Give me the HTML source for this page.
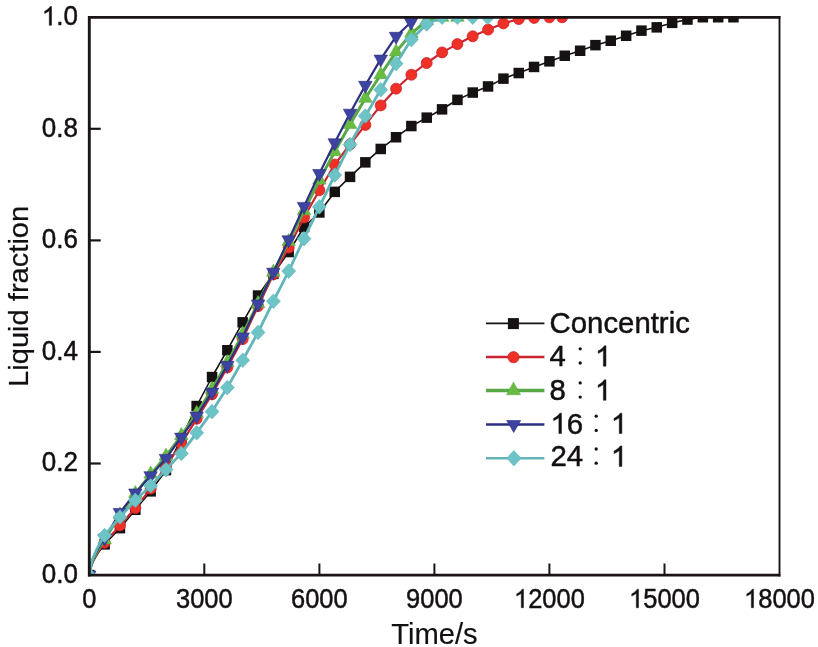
<!DOCTYPE html>
<html><head><meta charset="utf-8"><style>
html,body{margin:0;padding:0;background:#fff;width:818px;height:647px;overflow:hidden}
</style></head><body>
<svg width="818" height="647" viewBox="0 0 818 647" style="display:block;will-change:transform"><rect width="818" height="647" fill="#fff"/><defs><clipPath id="pc"><rect x="89.3" y="17.3" width="690.2" height="557.7"/></clipPath></defs><g clip-path="url(#pc)"><polyline points="89.3,575.0 91.2,566.2 93.1,561.6 95.1,558.0 97.0,554.8 98.9,551.9 100.8,549.2 102.7,546.7 104.6,544.3 120.0,528.2 135.3,509.7 150.7,491.3 166.0,470.2 181.3,438.4 196.7,406.0 212.0,377.0 227.3,350.2 242.7,322.4 258.0,295.6 273.4,273.8 288.7,252.1 304.0,227.0 319.4,212.5 334.7,191.9 350.0,176.8 365.4,162.3 380.7,148.9 396.1,137.2 411.4,126.1 426.7,117.7 442.1,109.3 457.4,99.8 472.7,92.6 488.1,86.5 503.4,78.6 518.8,73.1 534.1,66.9 549.4,61.4 564.8,55.8 580.1,50.8 595.4,45.2 610.8,40.7 626.1,35.7 641.5,30.7 656.8,27.3 672.1,22.9 687.5,19.5 702.8,17.3 718.1,17.3 733.5,17.3" fill="none" stroke="#161212" stroke-width="1.6" stroke-linejoin="round"/><rect x="84.0" y="569.8" width="10.5" height="10.5" fill="#161212"/><rect x="99.4" y="539.1" width="10.5" height="10.5" fill="#161212"/><rect x="114.7" y="522.9" width="10.5" height="10.5" fill="#161212"/><rect x="130.1" y="504.5" width="10.5" height="10.5" fill="#161212"/><rect x="145.4" y="486.1" width="10.5" height="10.5" fill="#161212"/><rect x="160.7" y="464.9" width="10.5" height="10.5" fill="#161212"/><rect x="176.1" y="433.1" width="10.5" height="10.5" fill="#161212"/><rect x="191.4" y="400.8" width="10.5" height="10.5" fill="#161212"/><rect x="206.8" y="371.8" width="10.5" height="10.5" fill="#161212"/><rect x="222.1" y="345.0" width="10.5" height="10.5" fill="#161212"/><rect x="237.4" y="317.1" width="10.5" height="10.5" fill="#161212"/><rect x="252.8" y="290.3" width="10.5" height="10.5" fill="#161212"/><rect x="268.1" y="268.6" width="10.5" height="10.5" fill="#161212"/><rect x="283.4" y="246.8" width="10.5" height="10.5" fill="#161212"/><rect x="298.8" y="221.7" width="10.5" height="10.5" fill="#161212"/><rect x="314.1" y="207.2" width="10.5" height="10.5" fill="#161212"/><rect x="329.5" y="186.6" width="10.5" height="10.5" fill="#161212"/><rect x="344.8" y="171.6" width="10.5" height="10.5" fill="#161212"/><rect x="360.1" y="157.1" width="10.5" height="10.5" fill="#161212"/><rect x="375.5" y="143.7" width="10.5" height="10.5" fill="#161212"/><rect x="390.8" y="132.0" width="10.5" height="10.5" fill="#161212"/><rect x="406.1" y="120.8" width="10.5" height="10.5" fill="#161212"/><rect x="421.5" y="112.4" width="10.5" height="10.5" fill="#161212"/><rect x="436.8" y="104.1" width="10.5" height="10.5" fill="#161212"/><rect x="452.2" y="94.6" width="10.5" height="10.5" fill="#161212"/><rect x="467.5" y="87.3" width="10.5" height="10.5" fill="#161212"/><rect x="482.8" y="81.2" width="10.5" height="10.5" fill="#161212"/><rect x="498.2" y="73.4" width="10.5" height="10.5" fill="#161212"/><rect x="513.5" y="67.8" width="10.5" height="10.5" fill="#161212"/><rect x="528.8" y="61.7" width="10.5" height="10.5" fill="#161212"/><rect x="544.2" y="56.1" width="10.5" height="10.5" fill="#161212"/><rect x="559.5" y="50.5" width="10.5" height="10.5" fill="#161212"/><rect x="574.9" y="45.5" width="10.5" height="10.5" fill="#161212"/><rect x="590.2" y="39.9" width="10.5" height="10.5" fill="#161212"/><rect x="605.5" y="35.5" width="10.5" height="10.5" fill="#161212"/><rect x="620.9" y="30.5" width="10.5" height="10.5" fill="#161212"/><rect x="636.2" y="25.4" width="10.5" height="10.5" fill="#161212"/><rect x="651.5" y="22.1" width="10.5" height="10.5" fill="#161212"/><rect x="666.9" y="17.6" width="10.5" height="10.5" fill="#161212"/><rect x="682.2" y="14.3" width="10.5" height="10.5" fill="#161212"/><rect x="697.6" y="12.0" width="10.5" height="10.5" fill="#161212"/><rect x="712.9" y="12.0" width="10.5" height="10.5" fill="#161212"/><rect x="728.2" y="12.0" width="10.5" height="10.5" fill="#161212"/><polyline points="89.3,575.0 91.2,565.7 93.1,560.9 95.1,557.0 97.0,553.7 98.9,550.6 100.8,547.8 102.7,545.1 104.6,542.7 120.0,525.4 135.3,508.1 150.7,488.6 166.0,466.2 181.3,443.4 196.7,418.8 212.0,394.3 227.3,367.5 242.7,339.1 258.0,306.2 273.4,274.4 288.7,247.6 304.0,217.5 319.4,190.2 334.7,164.5 350.0,144.5 365.4,124.9 380.7,105.4 396.1,88.7 411.4,74.7 426.7,63.0 442.1,52.4 457.4,44.1 472.7,36.3 488.1,29.6 503.4,23.4 518.8,19.0 534.1,17.9 549.4,17.3 562.1,17.3" fill="none" stroke="#cc2430" stroke-width="2.2" stroke-linejoin="round"/><circle cx="89.3" cy="575.0" r="5.5" fill="#ee3026" stroke="#cc2430" stroke-width="0.8"/><circle cx="104.6" cy="542.7" r="5.5" fill="#ee3026" stroke="#cc2430" stroke-width="0.8"/><circle cx="120.0" cy="525.4" r="5.5" fill="#ee3026" stroke="#cc2430" stroke-width="0.8"/><circle cx="135.3" cy="508.1" r="5.5" fill="#ee3026" stroke="#cc2430" stroke-width="0.8"/><circle cx="150.7" cy="488.6" r="5.5" fill="#ee3026" stroke="#cc2430" stroke-width="0.8"/><circle cx="166.0" cy="466.2" r="5.5" fill="#ee3026" stroke="#cc2430" stroke-width="0.8"/><circle cx="181.3" cy="443.4" r="5.5" fill="#ee3026" stroke="#cc2430" stroke-width="0.8"/><circle cx="196.7" cy="418.8" r="5.5" fill="#ee3026" stroke="#cc2430" stroke-width="0.8"/><circle cx="212.0" cy="394.3" r="5.5" fill="#ee3026" stroke="#cc2430" stroke-width="0.8"/><circle cx="227.3" cy="367.5" r="5.5" fill="#ee3026" stroke="#cc2430" stroke-width="0.8"/><circle cx="242.7" cy="339.1" r="5.5" fill="#ee3026" stroke="#cc2430" stroke-width="0.8"/><circle cx="258.0" cy="306.2" r="5.5" fill="#ee3026" stroke="#cc2430" stroke-width="0.8"/><circle cx="273.4" cy="274.4" r="5.5" fill="#ee3026" stroke="#cc2430" stroke-width="0.8"/><circle cx="288.7" cy="247.6" r="5.5" fill="#ee3026" stroke="#cc2430" stroke-width="0.8"/><circle cx="304.0" cy="217.5" r="5.5" fill="#ee3026" stroke="#cc2430" stroke-width="0.8"/><circle cx="319.4" cy="190.2" r="5.5" fill="#ee3026" stroke="#cc2430" stroke-width="0.8"/><circle cx="334.7" cy="164.5" r="5.5" fill="#ee3026" stroke="#cc2430" stroke-width="0.8"/><circle cx="350.0" cy="144.5" r="5.5" fill="#ee3026" stroke="#cc2430" stroke-width="0.8"/><circle cx="365.4" cy="124.9" r="5.5" fill="#ee3026" stroke="#cc2430" stroke-width="0.8"/><circle cx="380.7" cy="105.4" r="5.5" fill="#ee3026" stroke="#cc2430" stroke-width="0.8"/><circle cx="396.1" cy="88.7" r="5.5" fill="#ee3026" stroke="#cc2430" stroke-width="0.8"/><circle cx="411.4" cy="74.7" r="5.5" fill="#ee3026" stroke="#cc2430" stroke-width="0.8"/><circle cx="426.7" cy="63.0" r="5.5" fill="#ee3026" stroke="#cc2430" stroke-width="0.8"/><circle cx="442.1" cy="52.4" r="5.5" fill="#ee3026" stroke="#cc2430" stroke-width="0.8"/><circle cx="457.4" cy="44.1" r="5.5" fill="#ee3026" stroke="#cc2430" stroke-width="0.8"/><circle cx="472.7" cy="36.3" r="5.5" fill="#ee3026" stroke="#cc2430" stroke-width="0.8"/><circle cx="488.1" cy="29.6" r="5.5" fill="#ee3026" stroke="#cc2430" stroke-width="0.8"/><circle cx="503.4" cy="23.4" r="5.5" fill="#ee3026" stroke="#cc2430" stroke-width="0.8"/><circle cx="518.8" cy="19.0" r="5.5" fill="#ee3026" stroke="#cc2430" stroke-width="0.8"/><circle cx="534.1" cy="17.9" r="5.5" fill="#ee3026" stroke="#cc2430" stroke-width="0.8"/><circle cx="549.4" cy="17.3" r="5.5" fill="#ee3026" stroke="#cc2430" stroke-width="0.8"/><circle cx="562.1" cy="17.3" r="5.5" fill="#ee3026" stroke="#cc2430" stroke-width="0.8"/><polyline points="89.3,575.0 91.2,564.9 93.1,559.7 95.1,555.5 97.0,551.8 98.9,548.5 100.8,545.4 102.7,542.6 104.6,539.9 120.0,514.8 135.3,493.6 150.7,474.1 166.0,456.2 181.3,435.6 196.7,413.3 212.0,389.3 227.3,362.5 242.7,334.1 258.0,303.4 273.4,272.2 288.7,241.5 304.0,210.8 319.4,180.1 334.7,151.7 350.0,124.4 365.4,98.2 380.7,74.7 396.1,51.9 411.4,33.5 426.7,20.6 442.1,17.3 457.4,17.3" fill="none" stroke="#58a846" stroke-width="3.0" stroke-linejoin="round"/><path d="M89.3,567.0L96.0,579.0L82.5,579.0Z" fill="#68bd40" stroke="#58a846" stroke-width="0.6"/><path d="M104.6,531.9L111.4,543.9L97.9,543.9Z" fill="#68bd40" stroke="#58a846" stroke-width="0.6"/><path d="M120.0,506.8L126.7,518.8L113.2,518.8Z" fill="#68bd40" stroke="#58a846" stroke-width="0.6"/><path d="M135.3,485.6L142.1,497.6L128.6,497.6Z" fill="#68bd40" stroke="#58a846" stroke-width="0.6"/><path d="M150.7,466.1L157.4,478.1L143.9,478.1Z" fill="#68bd40" stroke="#58a846" stroke-width="0.6"/><path d="M166.0,448.2L172.7,460.2L159.2,460.2Z" fill="#68bd40" stroke="#58a846" stroke-width="0.6"/><path d="M181.3,427.6L188.1,439.6L174.6,439.6Z" fill="#68bd40" stroke="#58a846" stroke-width="0.6"/><path d="M196.7,405.3L203.4,417.3L189.9,417.3Z" fill="#68bd40" stroke="#58a846" stroke-width="0.6"/><path d="M212.0,381.3L218.8,393.3L205.3,393.3Z" fill="#68bd40" stroke="#58a846" stroke-width="0.6"/><path d="M227.3,354.5L234.1,366.5L220.6,366.5Z" fill="#68bd40" stroke="#58a846" stroke-width="0.6"/><path d="M242.7,326.1L249.4,338.1L235.9,338.1Z" fill="#68bd40" stroke="#58a846" stroke-width="0.6"/><path d="M258.0,295.4L264.8,307.4L251.3,307.4Z" fill="#68bd40" stroke="#58a846" stroke-width="0.6"/><path d="M273.4,264.2L280.1,276.2L266.6,276.2Z" fill="#68bd40" stroke="#58a846" stroke-width="0.6"/><path d="M288.7,233.5L295.4,245.5L281.9,245.5Z" fill="#68bd40" stroke="#58a846" stroke-width="0.6"/><path d="M304.0,202.8L310.8,214.8L297.3,214.8Z" fill="#68bd40" stroke="#58a846" stroke-width="0.6"/><path d="M319.4,172.1L326.1,184.1L312.6,184.1Z" fill="#68bd40" stroke="#58a846" stroke-width="0.6"/><path d="M334.7,143.7L341.5,155.7L328.0,155.7Z" fill="#68bd40" stroke="#58a846" stroke-width="0.6"/><path d="M350.0,116.4L356.8,128.4L343.3,128.4Z" fill="#68bd40" stroke="#58a846" stroke-width="0.6"/><path d="M365.4,90.2L372.1,102.2L358.6,102.2Z" fill="#68bd40" stroke="#58a846" stroke-width="0.6"/><path d="M380.7,66.7L387.5,78.7L374.0,78.7Z" fill="#68bd40" stroke="#58a846" stroke-width="0.6"/><path d="M396.1,43.9L402.8,55.9L389.3,55.9Z" fill="#68bd40" stroke="#58a846" stroke-width="0.6"/><path d="M411.4,25.5L418.1,37.5L404.6,37.5Z" fill="#68bd40" stroke="#58a846" stroke-width="0.6"/><path d="M426.7,12.6L433.5,24.6L420.0,24.6Z" fill="#68bd40" stroke="#58a846" stroke-width="0.6"/><path d="M442.1,9.3L448.8,21.3L435.3,21.3Z" fill="#68bd40" stroke="#58a846" stroke-width="0.6"/><path d="M457.4,9.3L464.2,21.3L450.7,21.3Z" fill="#68bd40" stroke="#58a846" stroke-width="0.6"/><polyline points="89.3,575.0 91.2,564.4 93.1,559.0 95.1,554.6 97.0,550.7 98.9,547.2 100.8,544.0 102.7,541.0 104.6,538.2 120.0,512.5 135.3,493.0 150.7,475.7 166.0,458.4 181.3,437.2 196.7,416.1 212.0,392.1 227.3,365.3 242.7,336.9 258.0,304.0 273.4,272.2 288.7,239.8 304.0,206.4 319.4,173.5 334.7,142.8 350.0,113.2 365.4,85.3 380.7,59.1 396.1,36.3 411.0,22.3" fill="none" stroke="#2e2f80" stroke-width="2.2" stroke-linejoin="round"/><path d="M82.5,571.0L96.0,571.0L89.3,583.0Z" fill="#3d43a0" stroke="#2e2f80" stroke-width="0.6"/><path d="M97.9,534.2L111.4,534.2L104.6,546.2Z" fill="#3d43a0" stroke="#2e2f80" stroke-width="0.6"/><path d="M113.2,508.5L126.7,508.5L120.0,520.5Z" fill="#3d43a0" stroke="#2e2f80" stroke-width="0.6"/><path d="M128.6,489.0L142.1,489.0L135.3,501.0Z" fill="#3d43a0" stroke="#2e2f80" stroke-width="0.6"/><path d="M143.9,471.7L157.4,471.7L150.7,483.7Z" fill="#3d43a0" stroke="#2e2f80" stroke-width="0.6"/><path d="M159.2,454.4L172.7,454.4L166.0,466.4Z" fill="#3d43a0" stroke="#2e2f80" stroke-width="0.6"/><path d="M174.6,433.2L188.1,433.2L181.3,445.2Z" fill="#3d43a0" stroke="#2e2f80" stroke-width="0.6"/><path d="M189.9,412.1L203.4,412.1L196.7,424.1Z" fill="#3d43a0" stroke="#2e2f80" stroke-width="0.6"/><path d="M205.3,388.1L218.8,388.1L212.0,400.1Z" fill="#3d43a0" stroke="#2e2f80" stroke-width="0.6"/><path d="M220.6,361.3L234.1,361.3L227.3,373.3Z" fill="#3d43a0" stroke="#2e2f80" stroke-width="0.6"/><path d="M235.9,332.9L249.4,332.9L242.7,344.9Z" fill="#3d43a0" stroke="#2e2f80" stroke-width="0.6"/><path d="M251.3,300.0L264.8,300.0L258.0,312.0Z" fill="#3d43a0" stroke="#2e2f80" stroke-width="0.6"/><path d="M266.6,268.2L280.1,268.2L273.4,280.2Z" fill="#3d43a0" stroke="#2e2f80" stroke-width="0.6"/><path d="M281.9,235.8L295.4,235.8L288.7,247.8Z" fill="#3d43a0" stroke="#2e2f80" stroke-width="0.6"/><path d="M297.3,202.4L310.8,202.4L304.0,214.4Z" fill="#3d43a0" stroke="#2e2f80" stroke-width="0.6"/><path d="M312.6,169.5L326.1,169.5L319.4,181.5Z" fill="#3d43a0" stroke="#2e2f80" stroke-width="0.6"/><path d="M328.0,138.8L341.5,138.8L334.7,150.8Z" fill="#3d43a0" stroke="#2e2f80" stroke-width="0.6"/><path d="M343.3,109.2L356.8,109.2L350.0,121.2Z" fill="#3d43a0" stroke="#2e2f80" stroke-width="0.6"/><path d="M358.6,81.3L372.1,81.3L365.4,93.3Z" fill="#3d43a0" stroke="#2e2f80" stroke-width="0.6"/><path d="M374.0,55.1L387.5,55.1L380.7,67.1Z" fill="#3d43a0" stroke="#2e2f80" stroke-width="0.6"/><path d="M389.3,32.3L402.8,32.3L396.1,44.3Z" fill="#3d43a0" stroke="#2e2f80" stroke-width="0.6"/><path d="M404.3,18.3L417.8,18.3L411.0,30.3Z" fill="#3d43a0" stroke="#2e2f80" stroke-width="0.6"/><polyline points="89.3,575.0 91.2,563.7 93.1,557.8 95.1,553.1 97.0,548.9 98.9,545.2 100.8,541.8 102.7,538.6 104.6,535.5 120.0,517.0 135.3,500.3 150.7,485.8 166.0,469.6 181.3,453.4 196.7,432.8 212.0,411.6 227.3,387.6 242.7,360.3 258.0,332.4 273.4,301.2 288.7,271.1 304.0,238.7 319.4,206.9 334.7,175.1 350.0,144.5 365.4,116.0 380.7,89.8 396.1,63.6 411.4,39.6 426.7,24.0 442.1,17.3 457.4,17.3 472.7,17.3 487.7,17.3" fill="none" stroke="#62b6b9" stroke-width="2.8" stroke-linejoin="round"/><path d="M89.3,567.7L96.3,575.0L89.3,582.3L82.3,575.0Z" fill="#6cc4c6" stroke="#62b6b9" stroke-width="0.6"/><path d="M104.6,528.2L111.6,535.5L104.6,542.8L97.6,535.5Z" fill="#6cc4c6" stroke="#62b6b9" stroke-width="0.6"/><path d="M120.0,509.7L127.0,517.0L120.0,524.3L113.0,517.0Z" fill="#6cc4c6" stroke="#62b6b9" stroke-width="0.6"/><path d="M135.3,493.0L142.3,500.3L135.3,507.6L128.3,500.3Z" fill="#6cc4c6" stroke="#62b6b9" stroke-width="0.6"/><path d="M150.7,478.5L157.7,485.8L150.7,493.1L143.7,485.8Z" fill="#6cc4c6" stroke="#62b6b9" stroke-width="0.6"/><path d="M166.0,462.3L173.0,469.6L166.0,476.9L159.0,469.6Z" fill="#6cc4c6" stroke="#62b6b9" stroke-width="0.6"/><path d="M181.3,446.1L188.3,453.4L181.3,460.7L174.3,453.4Z" fill="#6cc4c6" stroke="#62b6b9" stroke-width="0.6"/><path d="M196.7,425.5L203.7,432.8L196.7,440.1L189.7,432.8Z" fill="#6cc4c6" stroke="#62b6b9" stroke-width="0.6"/><path d="M212.0,404.3L219.0,411.6L212.0,418.9L205.0,411.6Z" fill="#6cc4c6" stroke="#62b6b9" stroke-width="0.6"/><path d="M227.3,380.3L234.3,387.6L227.3,394.9L220.3,387.6Z" fill="#6cc4c6" stroke="#62b6b9" stroke-width="0.6"/><path d="M242.7,353.0L249.7,360.3L242.7,367.6L235.7,360.3Z" fill="#6cc4c6" stroke="#62b6b9" stroke-width="0.6"/><path d="M258.0,325.1L265.0,332.4L258.0,339.7L251.0,332.4Z" fill="#6cc4c6" stroke="#62b6b9" stroke-width="0.6"/><path d="M273.4,293.9L280.4,301.2L273.4,308.5L266.4,301.2Z" fill="#6cc4c6" stroke="#62b6b9" stroke-width="0.6"/><path d="M288.7,263.8L295.7,271.1L288.7,278.4L281.7,271.1Z" fill="#6cc4c6" stroke="#62b6b9" stroke-width="0.6"/><path d="M304.0,231.4L311.0,238.7L304.0,246.0L297.0,238.7Z" fill="#6cc4c6" stroke="#62b6b9" stroke-width="0.6"/><path d="M319.4,199.6L326.4,206.9L319.4,214.2L312.4,206.9Z" fill="#6cc4c6" stroke="#62b6b9" stroke-width="0.6"/><path d="M334.7,167.8L341.7,175.1L334.7,182.4L327.7,175.1Z" fill="#6cc4c6" stroke="#62b6b9" stroke-width="0.6"/><path d="M350.0,137.2L357.0,144.5L350.0,151.8L343.0,144.5Z" fill="#6cc4c6" stroke="#62b6b9" stroke-width="0.6"/><path d="M365.4,108.7L372.4,116.0L365.4,123.3L358.4,116.0Z" fill="#6cc4c6" stroke="#62b6b9" stroke-width="0.6"/><path d="M380.7,82.5L387.7,89.8L380.7,97.1L373.7,89.8Z" fill="#6cc4c6" stroke="#62b6b9" stroke-width="0.6"/><path d="M396.1,56.3L403.1,63.6L396.1,70.9L389.1,63.6Z" fill="#6cc4c6" stroke="#62b6b9" stroke-width="0.6"/><path d="M411.4,32.3L418.4,39.6L411.4,46.9L404.4,39.6Z" fill="#6cc4c6" stroke="#62b6b9" stroke-width="0.6"/><path d="M426.7,16.7L433.7,24.0L426.7,31.3L419.7,24.0Z" fill="#6cc4c6" stroke="#62b6b9" stroke-width="0.6"/><path d="M442.1,10.0L449.1,17.3L442.1,24.6L435.1,17.3Z" fill="#6cc4c6" stroke="#62b6b9" stroke-width="0.6"/><path d="M457.4,10.0L464.4,17.3L457.4,24.6L450.4,17.3Z" fill="#6cc4c6" stroke="#62b6b9" stroke-width="0.6"/><path d="M472.7,10.0L479.7,17.3L472.7,24.6L465.7,17.3Z" fill="#6cc4c6" stroke="#62b6b9" stroke-width="0.6"/><path d="M487.7,10.0L494.7,17.3L487.7,24.6L480.7,17.3Z" fill="#6cc4c6" stroke="#62b6b9" stroke-width="0.6"/></g><g stroke="#1a1414" fill="none"><line x1="89.3" y1="16" x2="89.3" y2="576.5" stroke-width="2.9"/><line x1="88" y1="575.2" x2="780.4" y2="575.2" stroke-width="2.7"/><line x1="88" y1="17.3" x2="780.4" y2="17.3" stroke-width="2.7"/><line x1="779.5" y1="16" x2="779.5" y2="576.4" stroke-width="1.9"/><line x1="204.3" y1="575" x2="204.3" y2="563.5" stroke-width="2"/><line x1="319.4" y1="575" x2="319.4" y2="563.5" stroke-width="2"/><line x1="434.4" y1="575" x2="434.4" y2="563.5" stroke-width="2"/><line x1="549.4" y1="575" x2="549.4" y2="563.5" stroke-width="2"/><line x1="664.5" y1="575" x2="664.5" y2="563.5" stroke-width="2"/><line x1="89.3" y1="463.5" x2="100.7" y2="463.5" stroke-width="2.2"/><line x1="89.3" y1="351.9" x2="100.7" y2="351.9" stroke-width="2.2"/><line x1="89.3" y1="240.4" x2="100.7" y2="240.4" stroke-width="2.2"/><line x1="89.3" y1="128.8" x2="100.7" y2="128.8" stroke-width="2.2"/></g><g transform="translate(89.30,607.70) scale(0.98,1.05)" font-family='"Liberation Sans", sans-serif' font-size="26" fill="#141010" stroke="#141010" stroke-width="0.45" stroke-linejoin="round"><text x="-7.23" y="0">0</text></g><g transform="translate(204.33,607.70) scale(0.98,1.05)" font-family='"Liberation Sans", sans-serif' font-size="26" fill="#141010" stroke="#141010" stroke-width="0.45" stroke-linejoin="round"><text x="-28.92" y="0">3000</text></g><g transform="translate(319.36,607.70) scale(0.98,1.05)" font-family='"Liberation Sans", sans-serif' font-size="26" fill="#141010" stroke="#141010" stroke-width="0.45" stroke-linejoin="round"><text x="-28.92" y="0">6000</text></g><g transform="translate(434.40,607.70) scale(0.98,1.05)" font-family='"Liberation Sans", sans-serif' font-size="26" fill="#141010" stroke="#141010" stroke-width="0.45" stroke-linejoin="round"><text x="-28.92" y="0">9000</text></g><g transform="translate(549.43,607.70) scale(0.98,1.05)" font-family='"Liberation Sans", sans-serif' font-size="26" fill="#141010" stroke="#141010" stroke-width="0.45" stroke-linejoin="round"><path d="M-26.45,0.00L-28.74,0.00L-28.74,-13.74L-29.65,-12.96L-30.92,-12.25L-32.25,-11.58L-33.37,-11.09L-33.37,-13.18L-31.73,-13.99L-29.96,-15.29L-28.74,-16.49L-27.91,-17.57L-26.45,-17.57Z"/><text x="-21.69" y="0">2000</text></g><g transform="translate(664.46,607.70) scale(0.98,1.05)" font-family='"Liberation Sans", sans-serif' font-size="26" fill="#141010" stroke="#141010" stroke-width="0.45" stroke-linejoin="round"><path d="M-26.45,0.00L-28.74,0.00L-28.74,-13.74L-29.65,-12.96L-30.92,-12.25L-32.25,-11.58L-33.37,-11.09L-33.37,-13.18L-31.73,-13.99L-29.96,-15.29L-28.74,-16.49L-27.91,-17.57L-26.45,-17.57Z"/><text x="-21.69" y="0">5000</text></g><g transform="translate(779.49,607.70) scale(0.98,1.05)" font-family='"Liberation Sans", sans-serif' font-size="26" fill="#141010" stroke="#141010" stroke-width="0.45" stroke-linejoin="round"><path d="M-26.45,0.00L-28.74,0.00L-28.74,-13.74L-29.65,-12.96L-30.92,-12.25L-32.25,-11.58L-33.37,-11.09L-33.37,-13.18L-31.73,-13.99L-29.96,-15.29L-28.74,-16.49L-27.91,-17.57L-26.45,-17.57Z"/><text x="-21.69" y="0">8000</text></g><g transform="translate(78.00,583.00) scale(1.0,1.07)" font-family='"Liberation Sans", sans-serif' font-size="26" fill="#141010" stroke="#141010" stroke-width="0.45" stroke-linejoin="round"><text x="-36.14" y="0">0.0</text></g><g transform="translate(78.00,471.46) scale(1.0,1.07)" font-family='"Liberation Sans", sans-serif' font-size="26" fill="#141010" stroke="#141010" stroke-width="0.45" stroke-linejoin="round"><text x="-36.14" y="0">0.2</text></g><g transform="translate(78.00,359.92) scale(1.0,1.07)" font-family='"Liberation Sans", sans-serif' font-size="26" fill="#141010" stroke="#141010" stroke-width="0.45" stroke-linejoin="round"><text x="-36.14" y="0">0.4</text></g><g transform="translate(78.00,248.38) scale(1.0,1.07)" font-family='"Liberation Sans", sans-serif' font-size="26" fill="#141010" stroke="#141010" stroke-width="0.45" stroke-linejoin="round"><text x="-36.14" y="0">0.6</text></g><g transform="translate(78.00,136.84) scale(1.0,1.07)" font-family='"Liberation Sans", sans-serif' font-size="26" fill="#141010" stroke="#141010" stroke-width="0.45" stroke-linejoin="round"><text x="-36.14" y="0">0.8</text></g><g transform="translate(78.00,25.30) scale(1.0,1.07)" font-family='"Liberation Sans", sans-serif' font-size="26" fill="#141010" stroke="#141010" stroke-width="0.45" stroke-linejoin="round"><path d="M-26.45,0.00L-28.73,0.00L-28.73,-13.74L-29.64,-12.96L-30.92,-12.25L-32.24,-11.58L-33.36,-11.09L-33.36,-13.18L-31.72,-13.99L-29.96,-15.29L-28.73,-16.49L-27.90,-17.57L-26.45,-17.57Z"/><text x="-21.68" y="0">.0</text></g><g transform="translate(435.00,644.30) scale(1.044,1.04)" font-family='"Liberation Sans", sans-serif' font-size="28" fill="#141010" stroke="#141010" stroke-width="0.15" stroke-linejoin="round"><text x="-42.00" y="0">Time/s</text></g><g transform="translate(28.40,296.30) rotate(-90) scale(1.04,1.0)" font-family='"Liberation Sans", sans-serif' font-size="28" fill="#141010" stroke="#141010" stroke-width="0.2" stroke-linejoin="round"><text x="-87.17" y="0">Liquid fraction</text></g><line x1="486" y1="323.4" x2="544.4" y2="323.4" stroke="#161212" stroke-width="1.6"/><rect x="507.9" y="318.1" width="11" height="11" fill="#161212"/><line x1="486" y1="356.9" x2="544.4" y2="356.9" stroke="#cc2430" stroke-width="2.5"/><circle cx="513.5" cy="357.2" r="5.6" fill="#ee3026" stroke="#cc2430" stroke-width="0.8"/><line x1="486" y1="390.5" x2="544.4" y2="390.5" stroke="#58a846" stroke-width="3.6"/><path d="M513.5,382.2L520.5,394.7L506.5,394.7Z" fill="#68bd40" stroke="#58a846" stroke-width="0.6"/><line x1="486" y1="424.5" x2="544.4" y2="424.5" stroke="#2e2f80" stroke-width="2.5"/><path d="M506.7,420.5L520.7,420.5L513.7,432.5Z" fill="#3d43a0" stroke="#2e2f80" stroke-width="0.6"/><line x1="486" y1="458.2" x2="544.4" y2="458.2" stroke="#62b6b9" stroke-width="2.4"/><path d="M513.9,450.5L521.1,458.2L513.9,465.9L506.7,458.2Z" fill="#6cc4c6" stroke="#62b6b9" stroke-width="0.6"/><g transform="translate(549.60,333.40) scale(1.048,1.035)" font-family='"Liberation Sans", sans-serif' font-size="28" fill="#141010" stroke="#141010" stroke-width="0.45" stroke-linejoin="round"><text x="0.00" y="0">Concentric</text></g><g transform="translate(549.50,366.20) scale(1.05,1.08)" font-family='"Liberation Sans", sans-serif' font-size="28" fill="#141010" stroke="#141010" stroke-width="0.45" stroke-linejoin="round"><text x="0.00" y="0">4</text></g><g fill="#141010"><circle cx="580.2" cy="348.8" r="1.65"/><circle cx="580.2" cy="363.0" r="1.65"/></g><g transform="translate(595.00,366.20) scale(1.05,1.08)" font-family='"Liberation Sans", sans-serif' font-size="28" fill="#141010" stroke="#141010" stroke-width="0.45" stroke-linejoin="round"><path d="M10.44,0.00L7.98,0.00L7.98,-14.80L7.00,-13.96L5.63,-13.19L4.20,-12.48L3.00,-11.95L3.00,-14.19L4.76,-15.07L6.66,-16.47L7.98,-17.76L8.88,-18.93L10.44,-18.93Z"/></g><g transform="translate(549.50,400.30) scale(1.05,1.08)" font-family='"Liberation Sans", sans-serif' font-size="28" fill="#141010" stroke="#141010" stroke-width="0.45" stroke-linejoin="round"><text x="0.00" y="0">8</text></g><g fill="#141010"><circle cx="580.2" cy="382.9" r="1.65"/><circle cx="580.2" cy="397.1" r="1.65"/></g><g transform="translate(595.00,400.30) scale(1.05,1.08)" font-family='"Liberation Sans", sans-serif' font-size="28" fill="#141010" stroke="#141010" stroke-width="0.45" stroke-linejoin="round"><path d="M10.44,0.00L7.98,0.00L7.98,-14.80L7.00,-13.96L5.63,-13.19L4.20,-12.48L3.00,-11.95L3.00,-14.19L4.76,-15.07L6.66,-16.47L7.98,-17.76L8.88,-18.93L10.44,-18.93Z"/></g><g transform="translate(550.50,433.60) scale(1.05,1.08)" font-family='"Liberation Sans", sans-serif' font-size="28" fill="#141010" stroke="#141010" stroke-width="0.45" stroke-linejoin="round"><path d="M10.44,0.00L7.98,0.00L7.98,-14.80L7.00,-13.96L5.63,-13.19L4.20,-12.48L3.00,-11.95L3.00,-14.19L4.76,-15.07L6.66,-16.47L7.98,-17.76L8.88,-18.93L10.44,-18.93Z"/><text x="15.57" y="0">6</text></g><g fill="#141010"><circle cx="596.2" cy="416.2" r="1.65"/><circle cx="596.2" cy="430.4" r="1.65"/></g><g transform="translate(610.90,433.60) scale(1.05,1.08)" font-family='"Liberation Sans", sans-serif' font-size="28" fill="#141010" stroke="#141010" stroke-width="0.45" stroke-linejoin="round"><path d="M10.44,0.00L7.98,0.00L7.98,-14.80L7.00,-13.96L5.63,-13.19L4.20,-12.48L3.00,-11.95L3.00,-14.19L4.76,-15.07L6.66,-16.47L7.98,-17.76L8.88,-18.93L10.44,-18.93Z"/></g><g transform="translate(550.50,466.40) scale(1.05,1.08)" font-family='"Liberation Sans", sans-serif' font-size="28" fill="#141010" stroke="#141010" stroke-width="0.45" stroke-linejoin="round"><text x="0.00" y="0">24</text></g><g fill="#141010"><circle cx="596.2" cy="449.0" r="1.65"/><circle cx="596.2" cy="463.2" r="1.65"/></g><g transform="translate(610.90,466.40) scale(1.05,1.08)" font-family='"Liberation Sans", sans-serif' font-size="28" fill="#141010" stroke="#141010" stroke-width="0.45" stroke-linejoin="round"><path d="M10.44,0.00L7.98,0.00L7.98,-14.80L7.00,-13.96L5.63,-13.19L4.20,-12.48L3.00,-11.95L3.00,-14.19L4.76,-15.07L6.66,-16.47L7.98,-17.76L8.88,-18.93L10.44,-18.93Z"/></g></svg>
</body></html>
